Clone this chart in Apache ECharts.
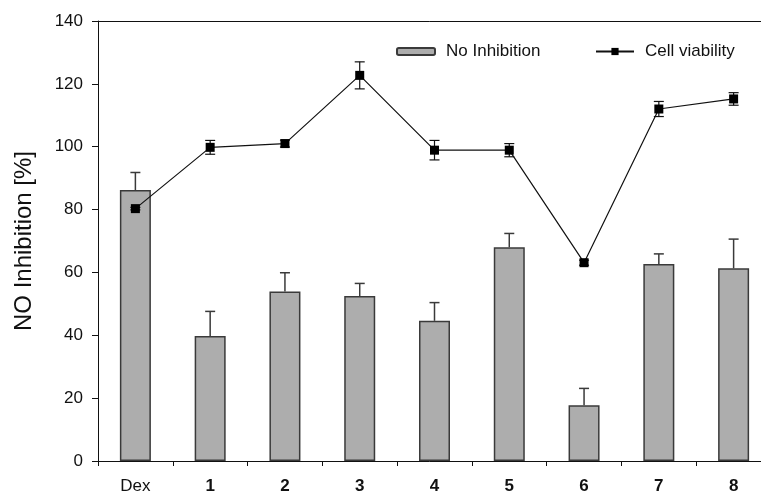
<!DOCTYPE html>
<html>
<head>
<meta charset="utf-8">
<script src="https://cdn.jsdelivr.net/npm/echarts@6/dist/echarts.min.js"></script>
<style>
html, body { margin: 0; padding: 0; background: #fff; }
#report { width: 761px; height: 493px; }
</style>
</head>
<body>
<div id="report"></div>
<script>
// data
var categories = ['Dex', '1', '2', '3', '4', '5', '6', '7', '8'];
var inhibition = [86.2, 39.8, 53.9, 52.5, 44.6, 68.0, 17.7, 62.7, 61.3];
var inhibitionErr = [5.6, 7.8, 6.0, 4.0, 5.8, 4.4, 5.4, 3.2, 9.3];
var viability = [80.3, 99.8, 101.0, 122.7, 98.9, 98.9, 63.1, 112.0, 115.2];
var viabilityErr = [0.4, 2.2, 1.1, 4.3, 3.1, 2.1, 0.8, 2.4, 2.0];
var yTicks = [0, 20, 40, 60, 80, 100, 120, 140];

var font = 'Liberation Sans, Arial, sans-serif';

// error bar rows: [index, low, high]
var barErrData = inhibition.map(function (v, i) { return [i, v, v + inhibitionErr[i]]; });
var lineErrData = viability.map(function (v, i) { return [i, v - viabilityErr[i], v + viabilityErr[i]]; });

function errorBar(color, width, capLow) {
    return function (params, api) {
        var lo = api.coord([api.value(0), api.value(1)]);
        var hi = api.coord([api.value(0), api.value(2)]);
        var cap = 5;
        var st = { stroke: color, lineWidth: width };
        var kids = [
            { type: 'line', shape: { x1: lo[0], y1: lo[1], x2: hi[0], y2: hi[1] }, style: st },
            { type: 'line', shape: { x1: hi[0] - cap, y1: hi[1], x2: hi[0] + cap, y2: hi[1] }, style: st }
        ];
        if (capLow) {
            kids.push({ type: 'line', shape: { x1: lo[0] - cap, y1: lo[1], x2: lo[0] + cap, y2: lo[1] }, style: st });
        }
        return { type: 'group', children: kids };
    };
}

var myChart = echarts.init(document.getElementById('report'));
var option = {
    animation: false,
    backgroundColor: '#fff',
    textStyle: { fontFamily: font },
    // plot runs past the right edge, the last band is cut off like in the figure
    grid: { left: 98, width: 673, top: 21, bottom: 32, outerBoundsMode: 'none', containLabel: false },
    legend: [{
        left: 391, top: 38,
        itemWidth: 38, itemHeight: 7,
        textStyle: { fontSize: 17, color: '#111', fontFamily: font, padding: [0, 0, 0, 6] },
        data: ['No Inhibition']
    }, {
        left: 590, top: 38,
        itemWidth: 38, itemHeight: 9,
        textStyle: { fontSize: 17, color: '#111', fontFamily: font, padding: [0, 0, 0, 6] },
        data: ['Cell viability']
    }],
    xAxis: [{
        type: 'category',
        data: categories,
        axisLine: { lineStyle: { color: '#111', width: 1 } },
        axisTick: { show: true, length: 5, lineStyle: { color: '#111' } },
        axisLabel: {
            margin: 17,
            fontSize: 17,
            color: '#111',
            formatter: function (v) { return v === 'Dex' ? v : '{b|' + v + '}'; },
            rich: { b: { fontWeight: 'bold', fontSize: 17, color: '#111', fontFamily: font } }
        }
    }, {
        type: 'category',
        position: 'top',
        data: categories,
        axisLine: { lineStyle: { color: '#111', width: 1 } },
        axisTick: { show: false },
        axisLabel: { show: false }
    }],
    yAxis: {
        type: 'value',
        min: yTicks[0],
        max: yTicks[yTicks.length - 1],
        interval: yTicks[1] - yTicks[0],
        name: 'NO Inhibition [%]',
        nameLocation: 'middle',
        nameGap: 62,
        nameTextStyle: { fontSize: 24, color: '#111', fontFamily: font },
        axisLine: { show: true, lineStyle: { color: '#111', width: 1 } },
        axisTick: { show: true, length: 6, lineStyle: { color: '#111' } },
        axisLabel: { margin: 15, fontSize: 17, color: '#111' },
        splitLine: { show: false }
    },
    series: [{
        name: 'No Inhibition',
        type: 'bar',
        data: inhibition,
        barWidth: 31,
        itemStyle: { color: '#adadad', borderColor: '#3a3a3a', borderWidth: 1.5 },
        z: 2
    }, {
        name: 'barErr',
        type: 'custom',
        data: barErrData,
        renderItem: errorBar('#3a3a3a', 1.5, false),
        z: 1
    }, {
        name: 'lineErr',
        type: 'custom',
        data: lineErrData,
        renderItem: errorBar('#111', 1.2, true),
        z: 3
    }, {
        name: 'Cell viability',
        type: 'line',
        data: viability,
        symbol: 'rect',
        symbolSize: 9,
        lineStyle: { color: '#111', width: 1.2 },
        itemStyle: { color: '#000' },
        z: 4
    }]
};
myChart.setOption(option);
</script>
</body>
</html>
